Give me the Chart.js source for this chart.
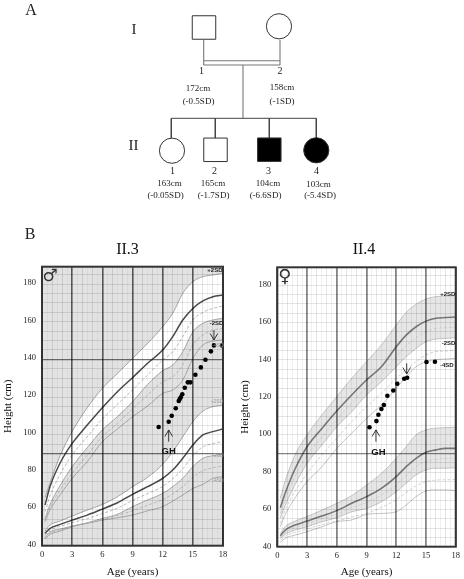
<!DOCTYPE html>
<html><head><meta charset="utf-8">
<style>html,body{margin:0;padding:0;background:#fff;width:464px;height:579px;overflow:hidden}
canvas{position:absolute;display:block;filter:blur(0.4px)}</style>
<script src="https://cdn.jsdelivr.net/npm/chart.js@4/dist/chart.umd.min.js"></script>
</head><body>
<canvas id="ped" style="left:0;top:0"></canvas>
<canvas id="boy" style="left:0;top:232px"></canvas>
<canvas id="girl" style="left:232px;top:232px"></canvas>
<script>
// ---------- data: growth reference curves (height, cm) ----------
const ages = [0.3,0.8,1.8,3,4.5,6,7.5,9,10.5,12,13,14,15,16,17,18];

const boyUpperPlus2 = [65,73,87.5,100.5,113.2,123.6,131.6,139.6,147.7,156.6,163.8,174.5,180.7,183.4,184.3,185.2];
const boyUpperMean  = [61.1,71,83.6,94.1,103.9,113.2,121.8,129.3,137,144.1,151.3,160.2,166.4,170.4,172.7,173.6];
const boyUpperMinus1= [57.5,66,77.5,87.9,97.7,107.1,115,122.7,130.7,138.8,143.2,151.3,160.2,164.3,166.4,167.7];
const boyUpperMinus2= [53.9,61.5,71.5,81.6,91.8,101.3,108.4,116.4,125.7,133,136.1,143.2,153.9,158.4,160.2,161.1];
const boyUpperMinus3= [53,60,69,78,87.9,97.7,104.8,112.5,120,127.1,129.8,136.1,146.8,152.1,154.8,155.7];
const boyUpperMinus4= [52.1,58.5,66.5,75.4,84.3,95,101.8,108.4,114.1,120.9,122.7,128,139.6,146.8,148.9,149.5];

const boyLowerPlus2 = [47.1,50.4,52.5,55.2,58.4,61.4,65.5,70.9,75.9,82.9,89.6,97.7,105.7,111.4,113.8,114.6];
const boyLowerMean  = [45.9,48.6,50.7,53,55.7,58.9,62.3,66.8,70.9,75.4,79.8,86.1,93.2,98.6,100.4,101.8];
const boyLowerMinus1= [44.9,47.6,49.6,51.6,53.8,56.5,59.4,63.5,67.2,71.1,75.2,80.5,87.4,92.2,94,95];
const boyLowerMinus2= [44.1,46.8,48.2,49.8,51.6,53.9,56.1,60.2,63.8,67.3,70.9,75.4,81.6,86.1,87.5,88.4];
const boyLowerMinus3= [43.5,46,47.6,49.6,51.4,53.2,55.5,58,61,64,67,71,76,79.5,81,82];
const boyLowerMinus4= [42.9,45.4,47.1,49.5,51.3,53,54.3,55.7,58,60.2,63.2,66.4,70,72.1,75.4,76.3];

const girlUpperPlus2 = [65.7,75,89,99.6,110.3,120.1,129.9,138.8,147.7,158.4,165.2,169.5,172.3,173.6,173.9,174.1];
const girlUpperMean  = [60.7,68.5,81.5,93.3,103.1,112.4,121,129,136.1,146.8,153,157.5,160.5,162,162.4,162.7];
const girlUpperMinus1= [57.5,65.5,77.5,88.5,98.5,108,116.5,125,132,141.5,147.5,151.5,155,156.5,157,157.2];
const girlUpperMinus2= [55,62,73,84.4,94.2,104,112,121,128.1,136.1,141.5,145.9,149.5,150.9,151.3,151.6];
const girlUpperMinus3= [52.3,59.5,69.5,79,88.9,97.8,106.7,114.7,121.8,129.9,134.4,138.8,142.4,144.2,144.5,145.1];
const girlUpperMinus4= [50.5,57,66,74.6,82.6,92.4,100.5,108.5,115.6,124.5,130.8,136.1,138.8,139.9,140.2,140.6];

const girlLowerPlus2 = [46.9,50.5,53.5,55.9,59.4,63,67.1,72.8,79,87.1,93.3,99.6,102.3,103.2,103.5,103.7];
const girlLowerMean  = [45.7,48.7,51.4,53.5,56.2,59.1,63,66.6,71,77.3,82.6,87.1,90.3,91.6,92.4,92.4];
const girlLowerMinus1= [45,47.6,50,52,54.7,57.2,60.7,63.5,67.5,73,78,82.5,85.5,86.5,87,87.2];
const girlLowerMinus2= [44.3,46.4,48.7,50.5,53.2,55.3,58.5,60.3,63.9,69.2,73.7,78.2,80.9,81.8,81.8,82.1];
const girlLowerMinus3= [43.3,45.4,47.4,49.3,51.6,53.6,55.7,57.6,60.8,65,68.8,72.3,74.6,75.4,75.6,75.8];
const girlLowerMinus4= [42,44.3,46,47.8,50.5,53.2,54.1,57.1,57.6,58.5,62.1,66.6,69.6,70.2,70.2,69.8];

// ---------- data: patient measurements ----------
const boyAge    = [11.6,12.6,12.9,13.3,13.6,13.7,13.8,13.95,14.2,14.5,14.75,15.25,15.8,16.25,16.8,17.1,17.9];
const boyHeight = [102.9,105.7,108.9,112.9,116.8,117.9,118.8,120.4,123.9,126.8,126.8,130.9,134.8,138.9,143.4,146.6,146.6];
const girlAge    = [9.3,10,10.2,10.5,10.75,11.1,11.7,12.1,12.8,13.1,15.05,15.9];
const girlHeight = [103.7,107,110.4,113.5,115.6,120.6,123.4,127,129.7,130.2,138.6,138.8];

// ---------- tick labels ----------
const heightTicks = [40,60,80,100,120,140,160,180];
const ageTicks = [0,3,6,9,12,15,18];

// ---------- annotations ----------
const boyNotes = [
  {x:17.2,y:187,t:'+2SD',k:'sd'},{x:17.35,y:158.2,t:'-2SD',k:'sd'},
  {x:17.5,y:146.4,t:'-4SD',k:'faint'},{x:17.4,y:116.4,t:'+2SD',k:'faint'},
  {x:17.5,y:87.5,t:'-2SD',k:'faint'},{x:17.5,y:73.9,t:'-4SD',k:'faint'},
  {x:12.6,y:90,t:'GH',k:'gh'},{x:0.8,y:183.4,t:'\u2642',k:'boy'}];
const girlNotes = [
  {x:17.2,y:175,t:'+2SD',k:'sd'},{x:17.27,y:148.4,t:'-2SD',k:'sd'},{x:17.1,y:136.8,t:'-4SD',k:'sd'},
  {x:10.2,y:90.3,t:'GH',k:'gh'},{x:0.76,y:183.7,t:'\u2640',k:'girl'}];
const boyArrows  = [{x:12.6,from:95,to:101.3},{x:17.1,from:154.8,to:149.5}];
const girlArrows = [{x:9.95,from:96,to:102.3},{x:13.05,from:137.9,to:132.2}];

// ---------- pedigree ----------
const personId   = ['I1','I2','II1','II2','II3','II4'];
const personX    = [204,279,172,215.5,269.3,316.3];
const personY    = [27.5,26.3,150.7,149.8,149.7,150.3];
const personMale = [true,false,false,true,true,false];
const personAffected = [false,false,false,false,true,true];
const parentLine = [[203.7,40],[203.7,65],null,[280,40],[280,65],null,[203.7,65],[280,65],null,[203.7,60.7],[280,60.7],null,[243,65],[243,118.3]];
const sibLine = [[171.3,118.3],[316.3,118.3],null,[171.3,118.3],[171.3,138],null,[215.3,118.3],[215.3,138],null,[269.3,118.3],[269.3,138],null,[316.3,118.3],[316.3,138]];
const pedigreeText = [
  ['A',31,11,16],['B',30,235,16],['I',134,30,15],['II',133.5,146,15],
  ['1',201.5,71,10],['2',280,71,10],
  ['172cm',198,89,9],['(-0.5SD)',198.5,102,9],['158cm',282,88,9],['(-1SD)',282,102,9],
  ['1',172.5,171,10],['2',214.5,171,10],['3',268.5,171,10],['4',316.5,171,10],
  ['163cm',169.5,184,9],['(-0.05SD)',165.5,196,9],['165cm',213,184,9],['(-1.7SD)',213.5,196,9],
  ['104cm',268,184,9],['(-6.6SD)',265.5,196,9],['103cm',318.5,185,9],['(-5.4SD)',320,195.5,9]];

// ---------- helpers ----------
const SERIF = '"Liberation Serif","Times New Roman",serif';
const pts = (xs, ys) => xs.map((x, i) => ({x, y: ys[i]}));
const seg = a => a.map(p => p ? {x: p[0], y: p[1]} : {x: NaN, y: NaN});

function curve(ys, kind, st, fillTo) {
  const s = st[kind];
  const d = {type:'line', data: pts(ages, ys), borderColor: s.c, borderWidth: s.w, pointRadius: 0,
             cubicInterpolationMode:'monotone', borderDash: s.d || [], fill:false, clip:true};
  if (fillTo !== undefined) { d.fill = {target: fillTo}; d.backgroundColor = st.band; }
  return d;
}

const frame = {
  id:'frame',
  beforeDatasetsDraw(c, a, o) {
    const {left, top, width, height} = c.chartArea;
    if (o.bg) { c.ctx.save(); c.ctx.fillStyle = o.bg; c.ctx.fillRect(left, top, width, height); c.ctx.restore(); }
  },
  afterLayout(c, a, o) { if (c.titleBlock) { c.titleBlock.left += o.dx; c.titleBlock.right += o.dx; } },
  afterDraw(c, a, o) {
    const x = c.scales.x, y = c.scales.y, g = c.ctx, {left, top, width, height} = c.chartArea;
    g.save();
    g.strokeStyle = o.frame; g.lineWidth = 2; g.strokeRect(left, top, width, height);
    g.strokeStyle = '#222'; g.lineWidth = 0.9;
    o.arrows.forEach(r => {
      const px = x.getPixelForValue(r.x), y0 = y.getPixelForValue(r.from), y1 = y.getPixelForValue(r.to);
      const dir = y1 < y0 ? 1 : -1;
      g.beginPath(); g.moveTo(px, y0); g.lineTo(px, y1);
      g.moveTo(px - 3.8, y1 + dir * 6.5); g.lineTo(px, y1); g.lineTo(px + 3.8, y1 + dir * 6.5); g.stroke();
    });
    g.textAlign = 'center'; g.textBaseline = 'middle';
    const f = {sd:['bold 6px "Liberation Sans"','#222'], faint:['5px "Liberation Sans"','#999'],
               gh:['bold 9.5px "Liberation Sans"','#111'], boy:['17px "DejaVu Sans"','#333'], girl:['18px "DejaVu Sans"','#333']};
    o.notes.forEach(n => {
      g.font = f[n.k][0]; g.fillStyle = f[n.k][1];
      g.fillText(n.t, x.getPixelForValue(n.x), y.getPixelForValue(n.y));
    });
    g.restore();
  }
};

function growthChart(id, cfg) {
  const rows = [];
  for (let v = cfg.heavy[1] - cfg.step * 10; v < cfg.yMax; v += cfg.step) if (v > cfg.yMin) rows.push(+v.toFixed(2));
  const isHeavy = v => cfg.heavy.some(h => Math.abs(h - v) < 0.01);
  const dots = {type:'scatter', data: pts(cfg.age, cfg.height), backgroundColor:'#000', borderColor:'#000', pointRadius:2.3, borderWidth:0};
  const st = cfg.style;
  const c = cfg.curves;
  const ds = [dots,
    curve(c.upMean,'mean',st), curve(c.loMean,'mean',st),
    curve(c.up1,'dash',st), curve(c.lo1,'dash',st),
    curve(c.up3,'dash',st), curve(c.lo3,'dash',st),
    curve(c.up4,'thin',st), curve(c.lo4,'thin',st),
    curve(c.up2m,'thin',st), curve(c.lo2m,'thin',st)];
  ds.push(curve(c.up2,'thin',st,9), curve(c.lo2,'thin',st,10));
  new Chart(document.getElementById(id), {
    type:'line',
    data:{datasets:ds},
    plugins:[frame],
    options:{
      responsive:false, animation:false, events:[],
      layout:{autoPadding:false,padding:{top:0,left:0,right:cfg.W - cfg.right,bottom:0}},
      plugins:{
        legend:{display:false}, tooltip:{enabled:false},
        title:{display:true,text:cfg.title,fullSize:false,color:'#111',font:{family:SERIF,size:16,weight:'normal',lineHeight:1.2},
               padding:{top:cfg.titleTop,bottom:cfg.top - cfg.titleTop - 19.2}},
        frame:{bg:cfg.bg,frame:cfg.frame,notes:cfg.notes,arrows:cfg.arrows,dx:cfg.titleDx}
      },
      scales:{
        x:{type:'linear',min:0,max:18,
           afterFit(s){ s.height = cfg.H - cfg.bottom; },
           afterBuildTicks(s){ const t=[]; for(let i=0;i<=36;i++) t.push({value:i/2}); s.ticks=t; },
           ticks:{autoSkip:false,maxRotation:0,padding:4,color:'#222',font:{family:SERIF,size:8.5},
                  callback:v=>ageTicks.includes(v)?String(v):''},
           grid:{z:1,drawTicks:false,
                 color:x=>{const v=x.tick.value; return ageTicks.includes(v)?st.major:(v%1===0?st.minor:st.fine);},
                 lineWidth:x=>ageTicks.includes(x.tick.value)?cfg.majorW:1},
           border:{display:false},
           title:{display:true,text:'Age (years)',color:'#111',font:{family:SERIF,size:11},padding:{top:3,bottom:0}}},
        y:{type:'linear',min:cfg.yMin,max:cfg.yMax,
           afterFit(s){ s.width = cfg.left; },
           afterBuildTicks(s){ s.ticks=[...heightTicks,...rows].sort((a,b)=>a-b).map(value=>({value})); },
           ticks:{autoSkip:false,padding:6,color:'#222',font:{family:SERIF,size:8.5},
                  callback:v=>heightTicks.includes(v)?String(v):''},
           grid:{z:1,drawTicks:false,
                 color:x=>{const v=x.tick.value; return heightTicks.includes(v)?'rgba(0,0,0,0)':(isHeavy(v)?st.heavyRow:st.row);},
                 lineWidth:x=>isHeavy(x.tick.value)?1.3:1},
           border:{display:false},
           title:{display:true,text:'Height (cm)',color:'#111',font:{family:SERIF,size:11},padding:{top:cfg.yTitlePad,bottom:0}}}
      }
    }
  });
}

function size(id,w,h){const e=document.getElementById(id); e.width=w; e.height=h; e.style.width=w+'px'; e.style.height=h+'px';}
size('ped',464,245); size('boy',232,347); size('girl',232,347);

growthChart('boy',{W:232,H:347,left:42,right:223,top:34.7,bottom:313.7,titleTop:8,titleDx:-5,yTitlePad:1.5,
  yMin:39.3,yMax:188.75,heavy:[139.1,88.7],step:5.04,title:'II.3',bg:'#e2e2e2',frame:'#333',majorW:1.6,
  age:boyAge,height:boyHeight,notes:boyNotes,arrows:boyArrows,
  style:{band:'#ffffff',mean:{c:'#4a4a4a',w:1.5},thin:{c:'#a6a6a6',w:1},dash:{c:'#b4b4b4',w:0.9,d:[3,2]},
         major:'rgba(0,0,0,0.62)',minor:'rgba(0,0,0,0.11)',fine:'rgba(0,0,0,0.04)',row:'rgba(0,0,0,0.11)',heavyRow:'rgba(0,0,0,0.55)'},
  curves:{up2:boyUpperPlus2,upMean:boyUpperMean,up1:boyUpperMinus1,up2m:boyUpperMinus2,up3:boyUpperMinus3,up4:boyUpperMinus4,
          lo2:boyLowerPlus2,loMean:boyLowerMean,lo1:boyLowerMinus1,lo2m:boyLowerMinus2,lo3:boyLowerMinus3,lo4:boyLowerMinus4}});

growthChart('girl',{W:232,H:347,left:45.3,right:226.3,top:35.3,bottom:314.7,titleTop:8,titleDx:-2.5,yTitlePad:7,
  yMin:39.8,yMax:189.3,heavy:[139.6,89.7],step:5,title:'II.4',bg:'#ffffff',frame:'#333',majorW:1.8,
  age:girlAge,height:girlHeight,notes:girlNotes,arrows:girlArrows,
  style:{band:'#e6e6e6',mean:{c:'#777777',w:1.6},thin:{c:'#c4c4c4',w:1},dash:{c:'#cfcfcf',w:0.9,d:[3,2]},
         major:'rgba(0,0,0,0.48)',minor:'rgba(0,0,0,0.1)',fine:'rgba(0,0,0,0.06)',row:'rgba(0,0,0,0.1)',heavyRow:'rgba(0,0,0,0.48)'},
  curves:{up2:girlUpperPlus2,upMean:girlUpperMean,up1:girlUpperMinus1,up2m:girlUpperMinus2,up3:girlUpperMinus3,up4:girlUpperMinus4,
          lo2:girlLowerPlus2,loMean:girlLowerMean,lo1:girlLowerMinus1,lo2m:girlLowerMinus2,lo3:girlLowerMinus3,lo4:girlLowerMinus4}});

// pedigree as a scatter chart on a plain pixel-like scale
const pedText = {id:'pedText',afterDraw(c){
  const g=c.ctx,x=c.scales.x,y=c.scales.y; g.save(); g.textAlign='center'; g.textBaseline='middle'; g.fillStyle='#222';
  pedigreeText.forEach(([t,px,py,fs])=>{ g.font=fs+'px '+SERIF; g.fillText(t,x.getPixelForValue(px),y.getPixelForValue(py)); });
  g.restore();
}};
const lineDs = (a,col,w)=>({type:'scatter',showLine:true,data:seg(a),borderColor:col,borderWidth:w,pointRadius:0,spanGaps:false,fill:false});
new Chart(document.getElementById('ped'),{
  type:'scatter',
  data:{labels:personId,datasets:[
    {data:pts(personX,personY),pointStyle:personMale.map(m=>m?'rect':'circle'),
     pointRadius:personMale.map(m=>m?16.6:12.6),
     backgroundColor:personAffected.map(a=>a?'#000':'#fff'),borderColor:'#333',borderWidth:1},
    lineDs(parentLine,'#777',1.1),lineDs(sibLine,'#444',1)
  ]},
  plugins:[pedText],
  options:{responsive:false,animation:false,events:[],layout:{autoPadding:false,padding:0},
    plugins:{legend:{display:false},tooltip:{enabled:false}},
    scales:{x:{type:'linear',min:0,max:464,display:false},y:{type:'linear',min:0,max:245,reverse:true,display:false}}}
});
</script>
</body></html>
